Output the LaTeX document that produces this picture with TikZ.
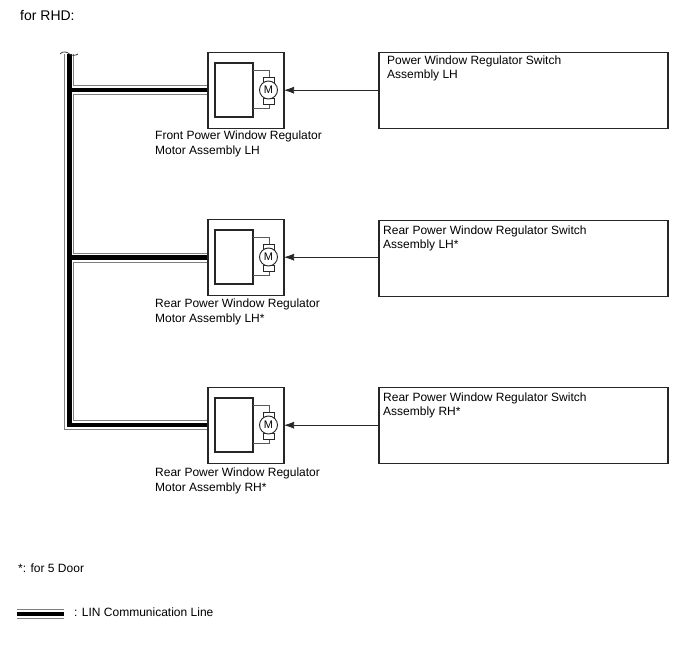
\documentclass[tikz,border=0pt]{standalone}
\usepackage{fontspec}
\setmainfont{Liberation Sans}
\usetikzlibrary{arrows.meta}
\tikzset{
  x=1pt,y=-1pt,
  frame/.style={draw=black!85,line width=1.25pt,minimum width=76pt,minimum height=76pt,inner sep=0,outer sep=0,anchor=north west},
  switchbox/.style={draw=black!85,line width=1.25pt,minimum width=289pt,minimum height=76pt,inner sep=0,outer sep=0,anchor=north west},
  ctrl/.style={draw=black!85,line width=1.1pt,minimum width=38pt,minimum height=54pt,inner sep=0,outer sep=0,anchor=north west},
  wire/.style={draw=black!65,line width=.7pt},
  brush/.style={draw=black!85,line width=.8pt,fill=white},
  rotor/.style={circle,draw=black!85,line width=.9pt,fill=white,minimum size=18pt,inner sep=0,font=\fontsize{11}{11}\selectfont},
  label/.style={inner sep=0,anchor=base west,font=\fontsize{12}{12}\selectfont},
  signal/.style={draw=black!85,line width=.7pt,-{Latex[length=10pt,width=7pt]}},
  busouter/.style={line width=10pt,draw=black!50},
  businner/.style={line width=8pt,draw=white},
  buscore/.style={line width=4.4pt,draw=black},
}
% One regulator motor: frame, control unit, motor symbol and its two feed wires
\newcommand{\motorunit}[2]{%
  \node[frame] (#1) at (208,#2+.2) {};
  \node[ctrl] (#1c) at (215,#2+11) {};
  \draw[wire] (#1c.east |- 0,#2+18) -| (269,#2+25);
  \draw[wire] (#1c.east |- 0,#2+56) -| (269,#2+52);
  \draw[brush] (263,#2+25) rectangle (274,#2+31);
  \draw[brush] (263,#2+46) rectangle (274,#2+52);
  \node[rotor] (#1m) at (268.5,#2+38) {M};
}
\begin{document}
\begin{tikzpicture}
\useasboundingbox (0,0) rectangle (688,658);
\fill[white] (0,0) rectangle (688,658);

\node[label,font=\fontsize{14}{14}\selectfont] (title) at (20,21) {for RHD:};

% Bus junction points
\coordinate (top) at (69.3,54);
\coordinate (j1) at (69.3,90.3);
\coordinate (j2) at (69.3,257.5);
\coordinate (j3) at (69.3,425);
\coordinate (e1) at (208,90.3);
\coordinate (e2) at (208,257.5);
\coordinate (e3) at (208,425);

% Bus: outline, clearance, then core, so that the junctions merge
\foreach \sty in {busouter,businner,buscore}{
  \draw[\sty] (top) -- (j3) -- (e3);
  \draw[\sty] (j1) -- (e1);
  \draw[\sty] (j2) -- (e2);
}
% Break mark at the open end of the bus
\coordinate (b1) at (60,54);
\coordinate (b2) at (78,54);
\draw[black!80,line width=.7pt] (b1) .. controls (63,50.5) and (67,52) .. (69.5,54) .. controls (72,56) and (76,55.5) .. (b2);

\motorunit{ma}{52}
\motorunit{mb}{219}
\motorunit{mc}{387}

\node[switchbox] (sa) at (379,52.2) {};
\node[switchbox] (sb) at (379,220.2) {};
\node[switchbox] (sc) at (379,387.2) {};

\draw[signal] (sa.west) -- (ma.east |- sa.west);
\draw[signal] (sb.west |- mb.east) -- (mb.east);
\draw[signal] (sc.west) -- (mc.east |- sc.west);

\node[label] (ta1) at (387,65) {Power Window Regulator Switch};
\node[label] (ta2) at (387,79) {Assembly LH};
\node[label] (tb1) at (383,234) {Rear Power Window Regulator Switch};
\node[label] (tb2) at (383,248) {Assembly LH*};
\node[label] (tc1) at (383,401) {Rear Power Window Regulator Switch};
\node[label] (tc2) at (383,415) {Assembly RH*};

\node[label] (la1) at (155,139.5) {Front Power Window Regulator};
\node[label] (la2) at (155,154.5) {Motor Assembly LH};
\node[label] (lb1) at (155,307.5) {Rear Power Window Regulator};
\node[label] (lb2) at (155,322.5) {Motor Assembly LH*};
\node[label] (lc1) at (155,476.5) {Rear Power Window Regulator};
\node[label] (lc2) at (155,491.5) {Motor Assembly RH*};

\node[label] (note) at (18,572.5) {*: for 5 Door};

% Legend sample of the bus line
\coordinate (k1) at (17,614);
\coordinate (k2) at (64,614);
\foreach \sty in {busouter,businner,buscore}{\draw[\sty] (k1) -- (k2);}
\node[label] (key) at (74,616.5) {: LIN Communication Line};
\end{tikzpicture}
\end{document}
